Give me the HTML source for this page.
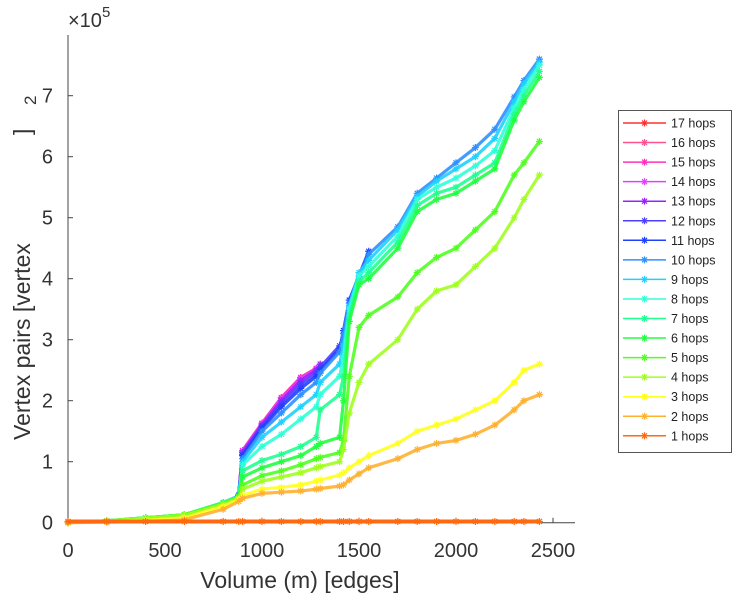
<!DOCTYPE html>
<html><head><meta charset="utf-8"><style>
html,body{margin:0;padding:0;background:#fff;}
svg{display:block;font-family:"Liberation Sans",sans-serif;}
</style></head><body>
<svg id="chart" width="736" height="600" viewBox="0 0 736 600">
<g id="axes"></g>
<g id="series"></g>
<g id="legend"></g>
</svg>
<script>
const volumes = [0,200,400,600,800,880,900,1000,1100,1200,1280,1300,1400,1420,1450,1500,1550,1700,1800,1900,2000,2100,2200,2300,2350,2430];
const N=null;
const hops1 = [0.02,0.02,0.02,0.02,0.02,0.02,0.02,0.02,0.02,0.02,0.02,0.02,0.02,0.02,0.02,0.02,0.02,0.02,0.02,0.02,0.02,0.02,0.02,0.02,0.02,0.02];
const hops2 = [0,0.01,0.02,0.05,0.22,0.35,0.4,0.48,0.5,0.52,0.55,0.56,0.6,0.62,0.7,0.8,0.9,1.05,1.2,1.3,1.35,1.45,1.6,1.85,2.0,2.1];
const hops3 = [0,0.02,0.04,0.08,0.27,0.38,0.45,0.55,0.58,0.62,0.68,0.7,0.78,0.82,0.9,1.0,1.1,1.3,1.5,1.6,1.7,1.85,2.0,2.3,2.5,2.6];
const hops4 = [0,0.03,0.07,0.12,0.3,0.4,0.55,0.68,0.75,0.82,0.9,0.92,1.0,1.2,1.8,2.3,2.6,3.0,3.5,3.8,3.9,4.2,4.5,5.0,5.3,5.7];
const hops5 = [0,0.03,0.08,0.13,0.32,0.42,0.62,0.77,0.85,0.95,1.05,1.07,1.15,1.35,2.4,3.2,3.4,3.7,4.1,4.35,4.5,4.8,5.1,5.7,5.9,6.25];
const hops6 = [0,0.03,0.08,0.13,0.32,0.42,0.75,0.9,1.0,1.1,1.25,1.3,1.4,2.0,3.3,3.9,4.0,4.5,5.1,5.3,5.4,5.6,5.8,6.6,6.9,7.3];
const hops7 = [0,0.03,0.08,0.13,0.33,0.43,0.85,1.02,1.12,1.25,1.4,1.85,2.1,2.4,3.4,3.95,4.1,4.6,5.2,5.4,5.5,5.7,5.9,6.7,7.0,7.4];
const hops8 = [0,0.03,0.08,0.13,0.33,0.43,0.95,1.25,1.45,1.7,1.9,2.1,2.4,2.7,3.5,4.05,4.2,4.7,5.3,5.5,5.65,5.85,6.1,6.8,7.1,7.5];
const hops9 = [0,0.03,0.08,0.13,0.33,0.43,1.0,1.4,1.65,1.9,2.1,2.3,2.6,2.9,3.55,4.1,4.3,4.8,5.35,5.6,5.8,6.0,6.3,6.9,7.2,7.55];
const hops10 = [0,0.03,0.08,0.13,0.33,0.44,1.05,1.5,1.8,2.1,2.3,2.45,2.8,3.1,3.6,4.0,4.4,4.85,5.4,5.65,5.9,6.15,6.45,6.98,7.25,7.6];
const hops11 = [N,N,N,N,N,0.45,1.1,1.55,1.9,2.2,2.4,2.5,2.85,3.15,3.65,4.05,4.45,N,N,N,N,N,N,N,N,N];
const hops12 = [N,N,N,N,N,0.45,1.12,1.58,1.95,2.27,2.45,2.55,2.9,N,N,N,N,N,N,N,N,N,N,N,N,N];
const hops13 = [N,N,N,N,N,0.45,1.15,1.6,2.0,2.33,2.5,2.6,N,N,N,N,N,N,N,N,N,N,N,N,N,N];
const hops14 = [N,N,N,N,N,0.45,1.17,1.62,2.03,2.36,2.52,N,N,N,N,N,N,N,N,N,N,N,N,N,N,N];
const hops15 = [N,N,N,N,N,0.45,1.18,1.63,2.05,2.38,2.53,N,N,N,N,N,N,N,N,N,N,N,N,N,N,N];
const hops16 = [N,N,N,N,N,0.45,1.18,1.63,2.05,2.38,2.53,N,N,N,N,N,N,N,N,N,N,N,N,N,N,N];
const hops17 = [N,N,N,N,N,0.45,1.18,1.63,2.05,2.38,2.53,N,N,N,N,N,N,N,N,N,N,N,N,N,N,N];
const seriesValues = [hops1,hops2,hops3,hops4,hops5,hops6,hops7,hops8,hops9,hops10,hops11,hops12,hops13,hops14,hops15,hops16,hops17];
const seriesLabels = ["1 hops","2 hops","3 hops","4 hops","5 hops","6 hops","7 hops","8 hops","9 hops","10 hops","11 hops","12 hops","13 hops","14 hops","15 hops","16 hops","17 hops"];
const seriesColors = ["#ff6a10","#ffb030","#ffff20","#a0ff20","#50ff20","#20ff40","#20ff90","#30ffd8","#20d0ff","#3090ff","#2040ff","#4a40ff","#9a20ff","#e040ff","#ff30c0","#ff5090","#ff3030"];
const xTicks = [0,500,1000,1500,2000,2500];
const yTicks = [0,1,2,3,4,5,6,7];

const NS="http://www.w3.org/2000/svg";
const X0=68, XS=485/2500, Y0=522.7, YS=61.0;
const xp=v=>X0+v*XS, yp=v=>Y0-v*YS;
function mk(tag,attrs,parent){const e=document.createElementNS(NS,tag);for(const k in attrs)e.setAttribute(k,attrs[k]);parent.appendChild(e);return e;}
const axes=document.getElementById('axes'), sg=document.getElementById('series'), lg=document.getElementById('legend');

let ax=mk('line',{x1:X0,y1:35,x2:X0,y2:Y0,stroke:'#444','stroke-width':1},axes);


let bx=mk('line',{x1:X0,y1:Y0,x2:575,y2:Y0,stroke:'#444','stroke-width':1},axes);


xTicks.forEach(t=>{
  const g=mk('g',{},axes);
  
  
  mk('line',{x1:xp(t),y1:Y0,x2:xp(t),y2:Y0-5,stroke:'#444'},g);
  const tx=mk('text',{x:xp(t),y:557,'text-anchor':'middle','font-size':20,fill:'#333'},g);tx.textContent=t;
});
yTicks.forEach(t=>{
  const g=mk('g',{},axes);
  
  
  mk('line',{x1:X0,y1:yp(t),x2:X0+5,y2:yp(t),stroke:'#444'},g);
  const tx=mk('text',{x:53,y:yp(t)+7,'text-anchor':'end','font-size':20,fill:'#333'},g);tx.textContent=t;
});
const exp=mk('text',{x:68,y:27,'font-size':20,fill:'#333'},axes);


exp.innerHTML='×10<tspan dy="-10" font-size="15">5</tspan>';
const xl=mk('text',{x:300,y:588,'text-anchor':'middle','font-size':23,fill:'#333'},axes);


xl.textContent='Volume (m) [edges]';
const yl=mk('text',{transform:'translate(30,440) rotate(-90)','font-size':23,fill:'#333'},axes);


yl.textContent='Vertex pairs [vertex';
const y2=mk('text',{transform:'translate(36,105) rotate(-90)','font-size':17,fill:'#333'},axes);


y2.textContent='2';
const y3=mk('text',{transform:'translate(30,135) rotate(-90)','font-size':23,fill:'#333'},axes);


y3.textContent=']';

function star(parent,x,y,c){
  const p=mk('path',{d:`M${x-3.5} ${y}H${x+3.5}M${x} ${y-3.5}V${y+3.5}M${x-2.5} ${y-2.5}L${x+2.5} ${y+2.5}M${x-2.5} ${y+2.5}L${x+2.5} ${y-2.5}`,stroke:c,'stroke-width':1.2,fill:'none'},parent);
  return p;
}
for(let s=seriesValues.length-1;s>=0;s--){
  const vals=seriesValues[s], c=seriesColors[s];
  const g=mk('g',{},sg);
  
  
  let d='';let started=false;
  vals.forEach((v,i)=>{ if(v===null){started=false;return;} d+=(started?'L':'M')+xp(volumes[i]).toFixed(1)+' '+yp(v).toFixed(1); started=true;});
  mk('path',{d:d,stroke:c,'stroke-width':3.2,fill:'none','stroke-linejoin':'round','stroke-opacity':0.9},g);
  vals.forEach((v,i)=>{ if(v===null)return; star(g,xp(volumes[i]),yp(v),c);});
}
// bottom 1-hop line on top
{
  const g=mk('g',{},sg);
  
  
  let d='';hops1.forEach((v,i)=>{d+=(i?'L':'M')+xp(volumes[i])+' '+yp(v);});
  mk('path',{d:d,stroke:seriesColors[0],'stroke-width':4,fill:'none'},g);
}
// legend
mk('rect',{x:618.5,y:110.5,width:113,height:342,fill:'#fff',stroke:'#555','stroke-width':1},lg);
for(let k=0;k<17;k++){
  const s=16-k, y=123+k*19.55, c=seriesColors[s];
  const g=mk('g',{},lg);
  
  
  mk('line',{x1:623,y1:y,x2:666,y2:y,stroke:c,'stroke-width':1.5},g);
  star(g,644.5,y,c);
  const t=mk('text',{x:671,y:y+4.5,'font-size':12.5,fill:'#222'},g);t.textContent=seriesLabels[s];
}
</script>
</body></html>
